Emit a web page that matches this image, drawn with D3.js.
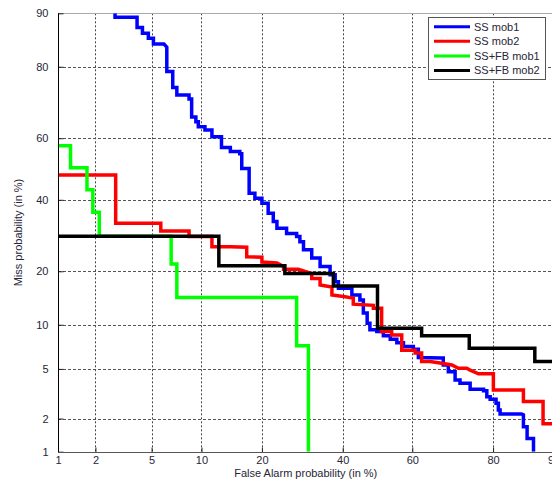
<!DOCTYPE html>
<html><head><meta charset="utf-8">
<script src="https://cdn.jsdelivr.net/npm/d3@7"></script>
<style>body{margin:0;background:#fff}svg{display:block}text{font-family:"Liberation Sans",Arial,sans-serif}</style>
</head><body><svg id="c" width="552" height="479"></svg>
<script>
// ---- data (False Alarm %, Miss %) ----
const xTicks = [1, 2, 5, 10, 20, 40, 60, 80, 90];
const yTicks = [1, 2, 5, 10, 20, 40, 60, 80, 90];
const seriesNames = ["SS mob1", "SS mob2", "SS+FB mob1", "SS+FB mob2"];
const seriesColors = ["#0000ff", "#ff0000", "#00ff00", "#000000"];

const ssMob1 = [[2.8,90],[2.8,89.4],[4.0,89.4],[4.0,87.8],[4.35,87.8],[4.35,86.8],[4.76,86.8],[4.76,85.9],[5.14,85.9],[5.14,84.8],[6.0,84.8],[6.25,84.2],[6.25,78.9],[6.8,78.9],[6.8,74.9],[7.2,74.9],[7.2,72.9],[8.5,72.9],[8.5,71.8],[8.8,71.8],[8.8,66.6],[9.3,66.6],[9.3,65.1],[9.6,65.1],[9.6,63.6],[10.45,63.6],[10.45,62.6],[11.4,62.6],[11.4,60.5],[12.8,60.5],[12.8,57.0],[14.2,57.0],[14.2,55.7],[15.8,55.7],[15.8,55.0],[16.15,55.0],[16.15,50.2],[17.5,50.2],[17.5,42.1],[18.6,42.1],[18.6,40.5],[20.0,40.5],[20.0,38.9],[21.3,38.9],[21.3,35.8],[22.4,35.8],[22.4,33.3],[23.2,33.3],[23.2,31.3],[25.4,31.3],[25.4,29.8],[27.8,29.8],[27.8,28.9],[28.6,28.9],[28.6,27.5],[29.5,27.5],[29.5,25.3],[31.6,25.3],[31.6,23.2],[33.8,23.2],[33.8,21.1],[36.5,21.1],[36.5,19.2],[37.9,19.2],[37.9,17.7],[38.8,17.7],[38.8,16.3],[42.6,16.3],[42.6,15.0],[44.9,15.0],[44.9,14.05],[45.9,14.05],[45.9,11.8],[47.0,11.8],[47.0,10.2],[47.8,10.2],[47.8,9.3],[49.8,9.3],[49.8,9.05],[51.7,9.05],[51.7,8.5],[53.7,8.5],[53.7,8.06],[55.6,8.06],[55.6,7.65],[57.5,7.65],[57.5,7.2],[60.3,7.2],[60.3,6.9],[61.7,6.9],[61.7,6.05],[68.0,6.0],[68.4,6.0],[68.4,5.34],[69.7,5.34],[69.7,4.77],[71.4,4.77],[71.4,4.13],[72.6,4.13],[72.6,3.9],[75.0,3.9],[75.0,3.5],[78.0,3.5],[78.0,3.4],[78.7,3.4],[78.7,3.05],[79.4,3.05],[79.4,2.9],[80.6,2.9],[80.6,2.7],[81.06,2.7],[81.06,2.37],[81.4,2.37],[81.4,2.19],[85.3,2.19],[85.6,2.15],[85.6,1.7],[86.2,1.7],[86.2,1.33],[87.2,1.33],[87.2,1.0]];

const ssMob2 = [[1,48],[2.83,48],[2.83,32.8],[5.73,32.8],[5.73,30.5],[8.5,30.5],[8.5,28.9],[11.4,28.9],[11.4,26.1],[14.2,26.1],[17.05,26.0],[17.05,23.5],[20.0,23.4],[20.0,22.2],[23.2,22.0],[24.7,21.1],[24.7,20.5],[28.2,20.5],[31.6,19.5],[31.6,18.4],[33.8,18.4],[33.8,17.0],[37.0,16.6],[37.0,15.0],[40.2,14.7],[43.0,14.4],[43.0,13.3],[48.8,13.1],[48.8,12.6],[51.2,12.6],[51.2,9.05],[54.1,9.05],[54.1,8.6],[57.0,8.6],[57.0,6.8],[60.8,6.8],[60.8,6.5],[62.6,6.5],[62.6,5.65],[64.9,5.65],[68.0,5.5],[70.6,5.34],[72.2,5.05],[74.2,5.05],[75.0,4.9],[76.9,4.6],[80.06,4.6],[80.06,3.45],[85.6,3.45],[85.6,2.78],[88.6,2.78],[88.6,1.8],[90,1.8]];

const ssfbMob1 = [[1,57.6],[1.27,57.6],[1.27,50.4],[1.72,50.4],[1.72,43.2],[1.91,43.2],[1.91,36.1],[2.14,36.1],[2.14,29],[6.65,29],[6.65,21.7],[7.2,21.7],[7.2,14.5],[27.8,14.5],[27.8,7.3],[30.75,7.3],[30.75,1]];

const ssfbMob2 = [[1,29],[12.4,29],[12.4,21.3],[25,21.3],[25,19.5],[37.4,19.5],[37.4,16.8],[50,16.8],[50,9.5],[62.6,9.5],[62.6,8.5],[74.8,8.5],[74.8,7.0],[87.4,7.0],[87.4,5.65],[90,5.65]];

const allSeries = [ssMob1, ssMob2, ssfbMob1, ssfbMob2];

// ---- inverse normal CDF (probit) ----
function probit(p){
  const a=[-3.969683028665376e+01,2.209460984245205e+02,-2.759285104469687e+02,1.383577518672690e+02,-3.066479806614716e+01,2.506628277459239e+00];
  const b=[-5.447609879822406e+01,1.615858368580409e+02,-1.556989798598866e+02,6.680131188771972e+01,-1.328068155288572e+01];
  const c=[-7.784894002430293e-03,-3.223964580411365e-01,-2.400758277161838e+00,-2.549671348193617e+00,4.374664141464968e+00,2.938163982698783e+00];
  const d=[7.784695709041462e-03,3.224671290700398e-01,2.445134137142996e+00,3.754408661907416e+00];
  const pl=0.02425, ph=1-pl; let q,r;
  if(p<pl){q=Math.sqrt(-2*Math.log(p));return (((((c[0]*q+c[1])*q+c[2])*q+c[3])*q+c[4])*q+c[5])/((((d[0]*q+d[1])*q+d[2])*q+d[3])*q+1);}
  if(p<=ph){q=p-0.5;r=q*q;return (((((a[0]*r+a[1])*r+a[2])*r+a[3])*r+a[4])*r+a[5])*q/(((((b[0]*r+b[1])*r+b[2])*r+b[3])*r+b[4])*r+1);}
  q=Math.sqrt(-2*Math.log(1-p));return -(((((c[0]*q+c[1])*q+c[2])*q+c[3])*q+c[4])*q+c[5])/((((d[0]*q+d[1])*q+d[2])*q+d[3])*q+1);
}
function probitScale(lin){
  const s = v => lin(probit(v/100));
  s.domain = () => [1,90];
  s.range = (r) => r ? (lin.range(r), s) : lin.range();
  s.copy = () => probitScale(lin.copy());
  return s;
}

const L=58, R=553.5, T=13.3, B=451.7;
const xs = probitScale(d3.scaleLinear().domain([probit(0.01),probit(0.9)]).range([L,R]));
const ys = probitScale(d3.scaleLinear().domain([probit(0.01),probit(0.9)]).range([B,T]));

const svg = d3.select("#c");
svg.append("defs").append("clipPath").attr("id","clip").append("rect").attr("x",L).attr("y",T).attr("width",R-L).attr("height",B-T);

// grid
const grid = svg.append("g");
grid.selectAll("line.vx").data(xTicks.slice(1)).join("line")
  .attr("x1",d=>Math.round(xs(d))+0.5).attr("x2",d=>Math.round(xs(d))+0.5).attr("y1",T).attr("y2",B)
  .attr("stroke","#444").attr("stroke-width",1).attr("stroke-dasharray","2,2");
grid.selectAll("line.hy").data(yTicks.slice(1)).join("line")
  .attr("y1",d=>Math.round(ys(d))+0.5).attr("y2",d=>Math.round(ys(d))+0.5).attr("x1",L).attr("x2",R)
  .attr("stroke","#555").attr("stroke-width",1).attr("stroke-dasharray","3,2");

// top border (gray) beneath dashes
svg.append("line").attr("x1",L).attr("x2",R).attr("y1",Math.round(T)+0.5).attr("y2",Math.round(T)+0.5).attr("stroke","#aaa");

// curves
const line = d3.line().x(d=>xs(d[0])).y(d=>ys(d[1]));
const cg = svg.append("g").attr("clip-path","url(#clip)");
allSeries.forEach((s,i)=>{
  cg.append("path").attr("d",line(s)).attr("fill","none").attr("stroke",seriesColors[i])
    .attr("stroke-width",3.5).attr("stroke-linejoin","miter").attr("stroke-linecap","butt");
});

// axes
const xAxis = d3.axisBottom(xs).tickValues(xTicks).tickFormat(d3.format("d")).tickSizeInner(-5).tickSizeOuter(0).tickPadding(4);
const yAxis = d3.axisLeft(ys).tickValues(yTicks).tickFormat(d3.format("d")).tickSizeInner(-5).tickSizeOuter(0).tickPadding(10);
const gx = svg.append("g").attr("transform",`translate(0,${Math.round(B)+0.5})`).call(xAxis);
const gy = svg.append("g").attr("transform",`translate(${Math.round(L)+0.5},0)`).call(yAxis);
[gx,gy].forEach(g=>{
  g.select(".domain").remove();
  g.selectAll(".tick line").attr("stroke","#222");
  g.selectAll("text").attr("fill","#262636").attr("font-size","11px").attr("font-family","Liberation Sans, Arial, sans-serif");
});
svg.append("line").attr("x1",Math.round(L)+0.5).attr("x2",Math.round(L)+0.5).attr("y1",T).attr("y2",B+0.5).attr("stroke","#000");
svg.append("line").attr("x1",L).attr("x2",R).attr("y1",Math.round(B)+0.5).attr("y2",Math.round(B)+0.5).attr("stroke","#555");

// axis titles
svg.append("text").attr("x",(L+R)/2).attr("y",477).attr("text-anchor","middle")
  .attr("font-size","11px").attr("fill","#262636").text("False Alarm probability (in %)");
svg.append("text").attr("transform",`translate(22,${(T+B)/2}) rotate(-90)`).attr("text-anchor","middle")
  .attr("font-size","11px").attr("fill","#262636").text("Miss probability (in %)");

// legend
const lg = svg.append("g");
lg.append("rect").attr("x",428.5).attr("y",17.5).attr("width",117).attr("height",62).attr("fill","#fff").attr("stroke","#555");
seriesNames.forEach((n,i)=>{
  const y = 26.7 + i*14.6;
  lg.append("line").attr("x1",434).attr("x2",470).attr("y1",y).attr("y2",y).attr("stroke",seriesColors[i]).attr("stroke-width",3);
  lg.append("text").attr("x",474).attr("y",y).attr("dy","0.35em").attr("font-size","11px").attr("fill","#262636").text(n);
});
</script></body></html>
